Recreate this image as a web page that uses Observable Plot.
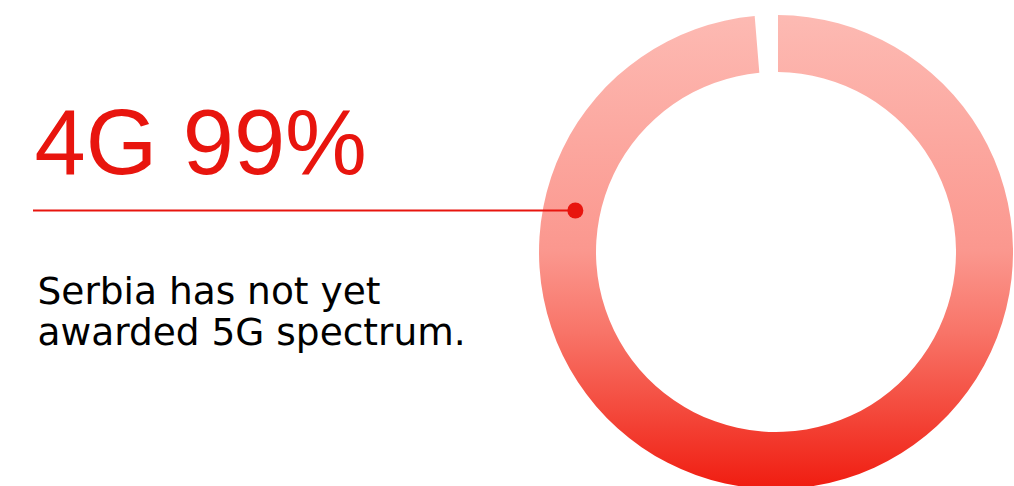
<!DOCTYPE html>
<html>
<head>
<meta charset="utf-8">
<script src="https://cdn.jsdelivr.net/npm/d3@7"></script>
<script src="https://cdn.jsdelivr.net/npm/@observablehq/plot@0.6"></script>
<style>
  html, body { margin: 0; padding: 0; background: #fff; overflow: hidden; }
</style>
</head>
<body>
<div id="chart"></div>
<script>
// ---- data ----
const technologies = ["4G"];
const coverage = [99];            // percent
const headlines = ["4G 99%"];
const notes = ["Serbia has not yet\nawarded 5G spectrum."];

// ---- layout ----
const W = 1014, H = 486;
const cx = 776, cy = 252, rOuter = 237, rInner = 180;
const red = "#e8150e";
const gradStops = [
  [0, "#fdbab3"], [0.5, "#fb978e"], [0.67, "#f87468"],
  [0.82, "#f44d40"], [1, "#f01c10"]
];

const rows = technologies.map((t, i) => ({tech: t, value: coverage[i], headline: headlines[i], note: notes[i]}));

// angle (radians, clockwise from 12 o'clock) where the leader line meets the ring
const leaderAngle = -Math.PI * 0.4345;
const rMid = (rOuter + rInner) / 2 - 3;
const dotX = cx + rMid * Math.sin(leaderAngle);
const dotY = cy - rMid * Math.cos(leaderAngle);

function ringMark(index, scales, values, dimensions, context) {
  const svg = d3.create("svg:g");
  const defs = svg.append("defs");
  const g = defs.append("linearGradient")
    .attr("id", "ringGrad")
    .attr("x1", 0).attr("y1", 0).attr("x2", 0).attr("y2", 1);
  gradStops.forEach(([o, c]) => g.append("stop").attr("offset", o).attr("stop-color", c));
  const pie = d3.pie().sort(null).value(d => d.v)
    .padAngle(4 / ((rOuter + rInner) / 2));
  const r = rows[0];
  const slices = pie([{v: r.value, k: "on"}, {v: 100 - r.value, k: "off"}]);
  const arc = d3.arc().innerRadius(rInner).outerRadius(rOuter)
    .padRadius((rOuter + rInner) / 2);
  svg.append("g")
    .attr("transform", `translate(${scales.x(cx)},${scales.y(cy)})`)
    .selectAll("path")
    .data(slices.filter(s => s.data.k === "on"))
    .join("path")
    .attr("d", arc)
    .attr("fill", "url(#ringGrad)");
  return svg.node();
}

const chart = Plot.plot({
  width: W,
  height: H,
  margin: 0,
  x: {type: "identity", axis: null},
  y: {type: "identity", axis: null},
  style: {background: "#fff", overflow: "hidden"},
  marks: [
    ringMark,
    Plot.ruleY([dotY], {x1: 33, x2: dotX, stroke: red, strokeWidth: 2}),
    Plot.dot([{x: dotX, y: dotY}], {x: "x", y: "y", r: 8, fill: red, stroke: "none"}),
    Plot.text(rows, {
      x: 34, y: 173, text: "headline", textAnchor: "start", lineAnchor: "bottom",
      fill: red, fontSize: 92, fontFamily: "Liberation Sans", fontWeight: 400
    }),
    Plot.text(rows, {
      x: 37, y: 344, text: "note", textAnchor: "start", lineAnchor: "bottom",
      fill: "#000", fontSize: 37.5, lineHeight: 1.07, fontFamily: "DejaVu Sans"
    })
  ]
});
document.getElementById("chart").appendChild(chart);
</script>
</body>
</html>
